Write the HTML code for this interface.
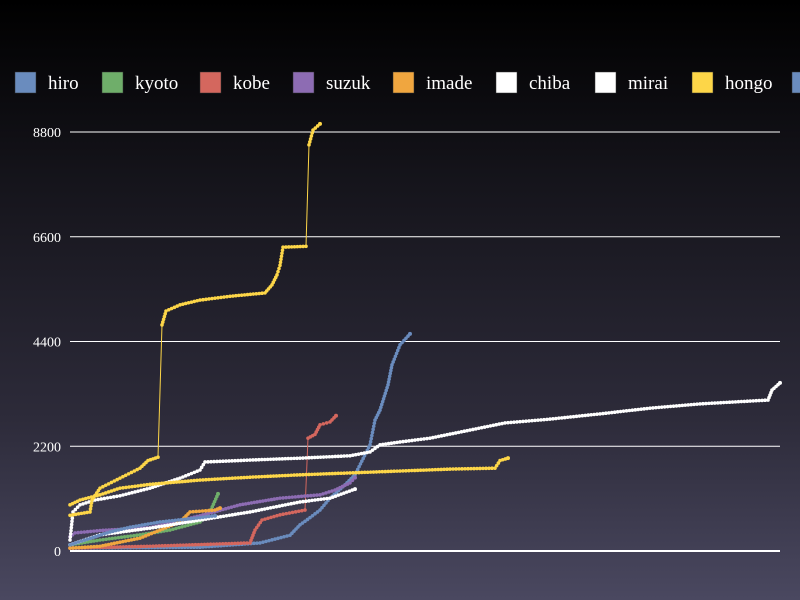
<!DOCTYPE html>
<html><head><meta charset="utf-8"><style>
html,body{margin:0;padding:0;}
body{width:800px;height:600px;overflow:hidden;background:linear-gradient(#000 0%,#15141b 30%,#2d2b3a 70%,#4a4860 100%);font-family:"Liberation Serif",serif;}
svg{display:block;}
</style></head><body>
<svg id="chart" width="800" height="600" xmlns="http://www.w3.org/2000/svg"></svg>
<script>
const yTicks=[0,2200,4400,6600,8800];
const seriesNames=["hiro","kyoto","kobe","suzuk","imade","chiba","mirai","hongo","extra"];
const seriesColors=["#6a8cbe","#6fae6a","#d4675e","#8d6cb3","#f0a63f","#ffffff","#ffffff","#fdd648","#6a8cbe"];
const hiroX=[0,130,190,220,230,240,250,260,275,285,300,305,310,318,322,330,340];
const hiroY=[60,80,170,330,550,700,860,1110,1390,1600,2230,2750,2960,3490,3910,4330,4560];
const kyotoX=[0,30,70,100,130,140,148];
const kyotoY=[130,230,340,440,610,820,1200];
const kobeX=[0,80,180,185,192,210,235,238,245,250,260,266];
const kobeY=[60,100,170,440,650,760,860,2370,2450,2650,2710,2840];
const suzukX=[0,5,30,80,130,170,210,250,265,280,285];
const suzukY=[300,380,430,490,740,970,1110,1180,1280,1430,1540];
const imadeX=[0,30,70,90,110,120,145,150];
const imadeY=[60,100,270,440,610,820,860,900];
const chibaX=[0,3,10,25,50,80,110,130,135,180,230,280,300,310,330,360,400,435,480,530,580,630,698,702,710];
const chibaY=[230,820,970,1070,1160,1320,1530,1700,1870,1910,1950,2000,2080,2230,2290,2370,2540,2690,2770,2880,3000,3090,3170,3380,3530];
const miraiX=[0,30,80,130,180,230,260,285];
const miraiY=[130,340,480,650,820,1030,1110,1300];
const hongoX=[0,20,22,30,50,70,78,88,92,96,110,130,160,195,202,207,210,213,236,239,243,250];
const hongoY=[750,820,1070,1320,1530,1740,1900,1970,4750,5040,5170,5270,5350,5420,5590,5800,6000,6380,6400,8530,8840,8970];
const hongo2X=[0,10,30,50,80,130,180,230,280,330,380,425,430,438];
const hongo2Y=[970,1070,1180,1320,1400,1490,1550,1600,1640,1680,1720,1740,1900,1950];
const extraX=[0,40,60,90,130,145];
const extraY=[130,400,500,610,700,740];
const NS="http://www.w3.org/2000/svg";
const svg=document.getElementById('chart');
const x0=70,x1=780,y0=551,y1=132;
const xs=v=>x0+v*((x1-x0)/710);
const ys=v=>y0-(v/8800)*(y0-y1);
function mk(t,a){const e=document.createElementNS(NS,t);for(const k in a)e.setAttribute(k,a[k]);return e;}
yTicks.forEach(t=>{
 const l=mk('line',{x1:x0,x2:x1,y1:ys(t),y2:ys(t),stroke:'#fff','stroke-width':t===0?2:1});
 
 
 svg.appendChild(l);
 const tx=mk('text',{x:61,y:ys(t)+5,'text-anchor':'end',fill:'#fff','font-size':14,'font-family':'Liberation Serif, serif'});
 tx.textContent=t;
 
 
 svg.appendChild(tx);
});
const data=[[hiroX,hiroY],[kyotoX,kyotoY],[kobeX,kobeY],[suzukX,suzukY],[imadeX,imadeY],[chibaX,chibaY],[miraiX,miraiY],[hongoX,hongoY],[extraX,extraY]];
const extraSeries=[[hongo2X,hongo2Y,7]];
function drawSeries(X,Y,color,name){
 const g=mk('g',{});
 
 
 let d='';
 X.forEach((v,i)=>{d+=(i?'L':'M')+xs(v)+','+ys(Y[i]);});
 g.appendChild(mk('path',{d:d,fill:'none',stroke:color,'stroke-width':1}));
 for(let i=1;i<X.length;i++){
  const ax=xs(X[i-1]),ay=ys(Y[i-1]),bx=xs(X[i]),by=ys(Y[i]);
  const len=Math.hypot(bx-ax,by-ay);const n=Math.max(1,Math.round(len/3));
  const big=Math.abs(by-ay)>40;
  for(let k=0;k<(big?1:n);k++){
   const f=k/n;
   const c=mk('circle',{cx:ax+(bx-ax)*f,cy:ay+(by-ay)*f,r:1.8,fill:color});
   
   
   g.appendChild(c);
  }
 }
 const c=mk('circle',{cx:xs(X[X.length-1]),cy:ys(Y[Y.length-1]),r:2,fill:color});
 g.appendChild(c);
 svg.appendChild(g);
}
data.forEach((s,i)=>drawSeries(s[0],s[1],seriesColors[i],seriesNames[i]));
extraSeries.forEach(s=>drawSeries(s[0],s[1],seriesColors[s[2]],'hongo-2'));
const legX=[15,102,200,293,393,496,595,692,792];
seriesNames.forEach((n,i)=>{
 const g=mk('g',{});
 
 
 g.appendChild(mk('rect',{x:legX[i],y:72,width:21,height:21,fill:seriesColors[i],stroke:'#333','stroke-width':0.5}));
 const t=mk('text',{x:legX[i]+33,y:89,fill:'#fff','font-size':19,'font-family':'Liberation Serif, serif'});
 t.textContent=n;
 g.appendChild(t);
 svg.appendChild(g);
});
</script>
</body></html>
